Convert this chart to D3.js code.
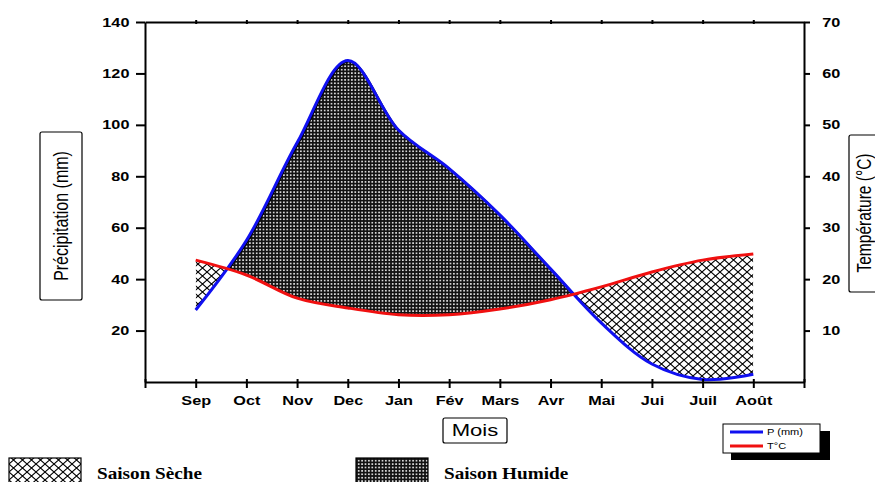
<!DOCTYPE html>
<html>
<head>
<meta charset="utf-8">
<script src="https://cdn.jsdelivr.net/npm/d3@7"></script>
<style>
  body { margin: 0; background: #fff; }
  svg { display: block; }
</style>
</head>
<body>
<script>
const months = ['Sep', 'Oct', 'Nov', 'Dec', 'Jan', 'Fév', 'Mars', 'Avr', 'Mai', 'Jui', 'Juil', 'Août'];
const precip = [28, 55, 93, 125, 98, 83, 65, 44, 23, 7, 1, 3];
const temp = [23.7, 20.8, 16.3, 14.4, 13.1, 13.1, 14.2, 16, 18.5, 21.4, 23.7, 24.9];
const precipTicks = [20, 40, 60, 80, 100, 120, 140];
const tempTicks = [10, 20, 30, 40, 50, 60, 70];

const width = 875;
const height = 482;
const SX = 1.3; // the source picture is stretched sideways

const x = d3.scaleLinear().domain([-1, 12]).range([145, 804]);
const yP = d3.scaleLinear().domain([0, 140]).range([382, 22]);
const yT = d3.scaleLinear().domain([0, 70]).range([382, 22]);

const data = months.map((m, i) => ({ i, m, p: precip[i], t: temp[i] }));
const curve = d3.curveCatmullRom;

const svg = d3.select('body').append('svg')
  .attr('width', width)
  .attr('height', height)
  .style('font-family', "'Liberation Sans', Arial, sans-serif");

const defs = svg.append('defs');

// cross hatch for the dry season
const dry = defs.append('pattern')
  .attr('id', 'dry')
  .attr('patternUnits', 'userSpaceOnUse')
  .attr('width', 9).attr('height', 8);
dry.append('rect').attr('width', 9).attr('height', 8).attr('fill', 'white');
dry.append('path')
  .attr('d', 'M0,0L9,8M9,0L0,8')
  .attr('stroke', 'black').attr('stroke-width', 1.1);

// dense dotted mesh for the humid season
const humid = defs.append('pattern')
  .attr('id', 'humid')
  .attr('patternUnits', 'userSpaceOnUse')
  .attr('width', 3.4).attr('height', 3.4);
humid.append('rect').attr('width', 3.4).attr('height', 3.4).attr('fill', '#111');
humid.append('circle').attr('cx', 1.7).attr('cy', 1.7).attr('r', 0.95).attr('fill', 'white');

// clip regions above and below the temperature curve
defs.append('clipPath').attr('id', 'aboveT')
  .append('path')
  .attr('d', d3.area().curve(curve).x(d => x(d.i)).y0(0).y1(d => yT(d.t))(data));
defs.append('clipPath').attr('id', 'belowT')
  .append('path')
  .attr('d', d3.area().curve(curve).x(d => x(d.i)).y0(d => yT(d.t)).y1(height)(data));

svg.append('path')
  .attr('d', d3.area().curve(curve).x(d => x(d.i)).y0(d => yP(d.p)).y1(yP(0))(data))
  .attr('clip-path', 'url(#aboveT)')
  .attr('fill', 'url(#humid)');

svg.append('path')
  .attr('d', d3.area().curve(curve).x(d => x(d.i)).y0(0).y1(d => yP(d.p))(data))
  .attr('clip-path', 'url(#belowT)')
  .attr('fill', 'url(#dry)');

const lineP = d3.line().curve(curve).x(d => x(d.i)).y(d => yP(d.p));
const lineT = d3.line().curve(curve).x(d => x(d.i)).y(d => yT(d.t));

// dark edge of the humid fill under the rain curve
svg.append('path')
  .attr('d', lineP(data))
  .attr('clip-path', 'url(#aboveT)')
  .attr('transform', 'translate(1,1)')
  .attr('fill', 'none').attr('stroke', 'black').attr('stroke-width', 2);

svg.append('path')
  .attr('d', lineP(data))
  .attr('fill', 'none').attr('stroke', '#1010f0').attr('stroke-width', 3);
svg.append('path')
  .attr('d', lineT(data))
  .attr('fill', 'none').attr('stroke', '#f01010').attr('stroke-width', 3);

// axes
function styleAxis(g) {
  g.selectAll('path, line').attr('stroke', 'black').attr('stroke-width', 2);
  g.selectAll('text')
    .attr('fill', 'black')
    .style('font-size', '12.5px')
    .style('font-weight', 'bold');
}

svg.append('g')
  .attr('transform', `translate(${x(-1)},0)`)
  .call(d3.axisLeft(yP).tickValues(precipTicks).tickSize(9).tickSizeOuter(0).tickPadding(3))
  .call(styleAxis)
  .call(g => g.selectAll('text').attr('x', -12).attr('transform', `scale(${SX},1)`));

svg.append('g')
  .attr('transform', `translate(${x(12)},0)`)
  .call(d3.axisRight(yT).tickValues(tempTicks).tickSize(6).tickSizeOuter(0).tickPadding(8))
  .call(styleAxis)
  .call(g => g.selectAll('text').attr('x', 14).attr('transform', `scale(${SX},1)`));

svg.append('g')
  .attr('transform', `translate(0,${yP(0)})`)
  .call(d3.axisBottom(x)
    .tickValues(d3.range(-1, 13))
    .tickFormat(i => months[i] || '')
    .tickSize(6).tickSizeOuter(0).tickPadding(8))
  .call(styleAxis)
  .call(g => g.selectAll('text').attr('transform', `scale(${SX},1)`))
  .call(g => g.selectAll('.tick line').attr('y1', -3));

svg.append('g')
  .attr('transform', `translate(0,${yP(140)})`)
  .call(d3.axisTop(x).tickValues(d3.range(0, 12)).tickFormat('').tickSize(2).tickSizeOuter(0))
  .call(styleAxis)
  .call(g => g.selectAll('.tick line').attr('y1', 2));

// boxed axis titles
function boxedLabel(x0, y0, w, h, tx, ty, label, size, rotate) {
  const g = svg.append('g');
  g.append('rect')
    .attr('x', x0).attr('y', y0)
    .attr('width', w).attr('height', h)
    .attr('rx', 2)
    .attr('fill', 'white').attr('stroke', 'black').attr('stroke-width', 1.2);
  g.append('text')
    .attr('transform', `translate(${tx},${ty}) scale(${SX},1) rotate(${rotate})`)
    .attr('text-anchor', 'middle')
    .attr('dy', '0.36em')
    .style('font-size', size + 'px')
    .text(label);
}

boxedLabel(40, 132, 42, 168, 61, 216, 'Précipitation (mm)', 16, -90);
boxedLabel(849, 135, 44, 157, 864, 213, 'Température (°C)', 15.5, -90);
boxedLabel(443, 418, 64, 25, 475, 430, 'Mois', 17, 0);

// P / T legend
const leg = svg.append('g');
leg.append('rect').attr('x', 731).attr('y', 431).attr('width', 99).attr('height', 29).attr('fill', 'black');
leg.append('rect').attr('x', 723).attr('y', 424).attr('width', 97).attr('height', 29)
  .attr('fill', 'white').attr('stroke', 'black').attr('stroke-width', 1);
[['P (mm)', '#1010f0', 432], ['T°C', '#f01010', 446]].forEach(([lab, col, yy]) => {
  leg.append('line').attr('x1', 730).attr('x2', 763).attr('y1', yy).attr('y2', yy)
    .attr('stroke', col).attr('stroke-width', 3);
  leg.append('text')
    .attr('transform', `translate(767,${yy}) scale(${SX},1)`)
    .attr('dy', '0.35em')
    .style('font-size', '8.5px')
    .text(lab);
});

// season legend
[['dry', 'Saison Sèche', 9], ['humid', 'Saison Humide', 356]].forEach(([pat, lab, x0]) => {
  svg.append('rect')
    .attr('x', x0).attr('y', 458).attr('width', 72).attr('height', 30)
    .attr('fill', `url(#${pat})`).attr('stroke', 'black').attr('stroke-width', 1.2);
  svg.append('text')
    .attr('transform', `translate(${x0 + 88},479) scale(1.2,1)`)
    .style('font-family', "'Liberation Serif', 'Times New Roman', serif")
    .style('font-weight', 'bold')
    .style('font-size', '16px')
    .text(lab);
});
</script>
</body>
</html>
